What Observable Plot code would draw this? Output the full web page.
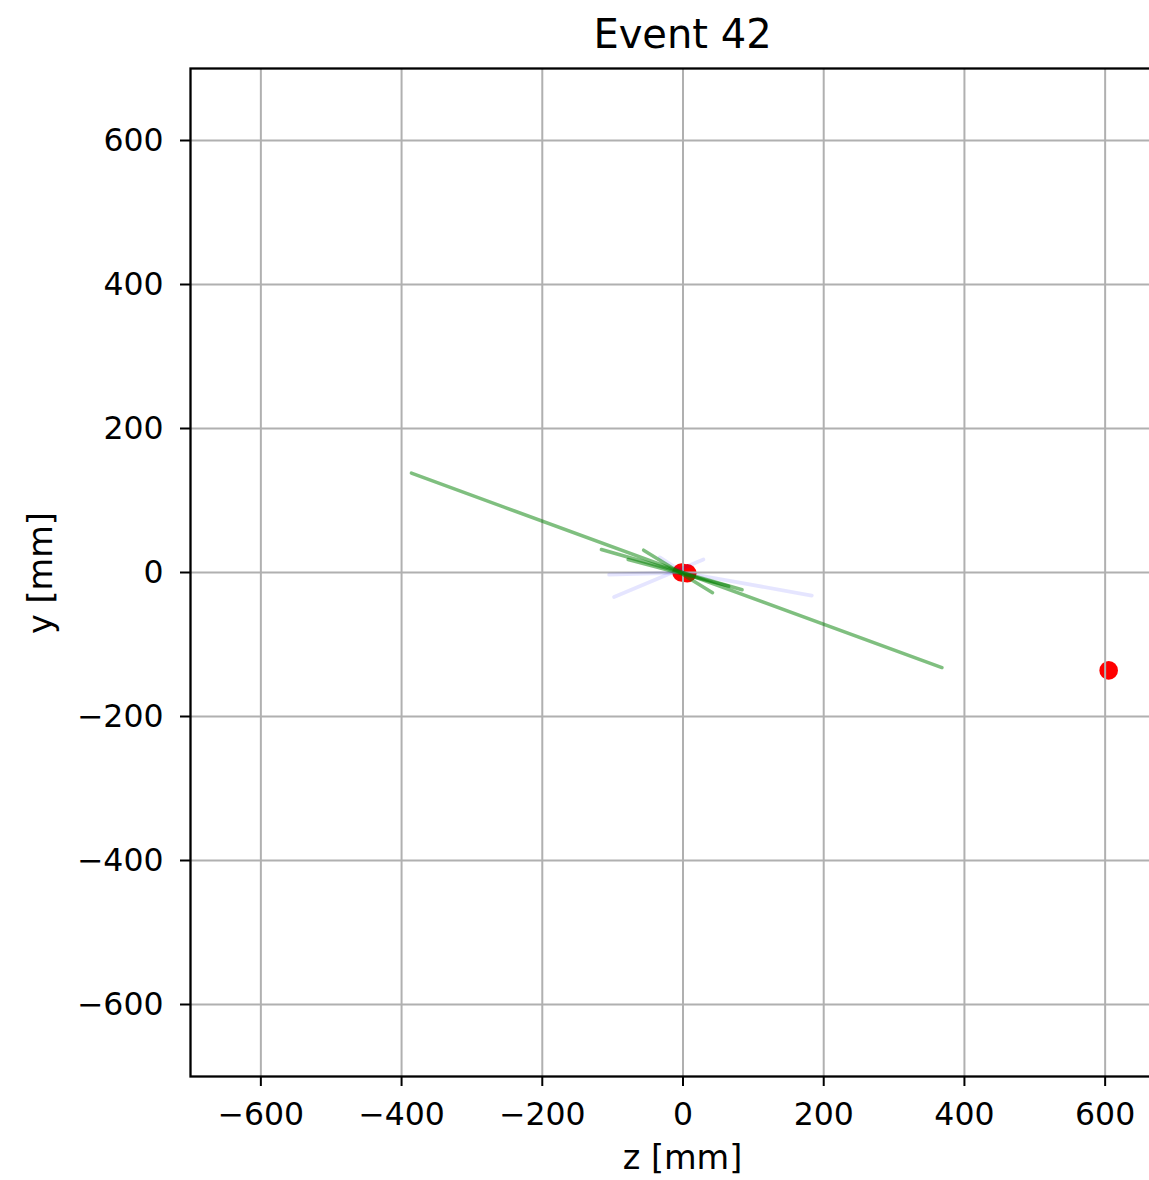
<!DOCTYPE html>
<html>
<head>
<meta charset="utf-8">
<script src="https://cdn.jsdelivr.net/npm/d3@7"></script>
<script src="https://cdn.jsdelivr.net/npm/@observablehq/plot@0.6"></script>
<style>
  html, body { margin: 0; padding: 0; background: #fff; overflow: hidden; }
  #chart { position: absolute; left: 0; top: 0; }
  #chart svg { max-width: none !important; }
</style>
</head>
<body>
<div id="chart"></div>
<script>
// ---- data ----
const titleText = "Event 42";
const xLabel = "z [mm]";
const yLabel = "y [mm]";
const tickValues = [-600, -400, -200, 0, 200, 400, 600];

// reconstructed tracks (green, alpha 0.5)
const trackZ1 = [-386, -116, -56, -78];
const trackY1 = [138, 32, 31, 18];
const trackZ2 = [368, 84, 42, 65];
const trackY2 = [-132, -24, -28, -19];

// faint tracks (blue, alpha 0.1)
const faintZ1 = [-105, 0, -98, -33];
const faintY1 = [-3, 0, -34, 21];
const faintZ2 = [0, 183, 29, 0];
const faintY2 = [0, -32, 18, 0];

// vertices (red)
const vertexZ = [-2, 6, 605];
const vertexY = [0, -1, -136];

// ---- tables ----
const tracks = trackZ1.map((_, i) => ({z1: trackZ1[i], y1: trackY1[i], z2: trackZ2[i], y2: trackY2[i]}));
const faint = faintZ1.map((_, i) => ({z1: faintZ1[i], y1: faintY1[i], z2: faintZ2[i], y2: faintY2[i]}));
const vertices = vertexZ.map((z, i) => ({z, y: vertexY[i]}));

const plot = Plot.plot({
  width: 1200,
  height: 1180,
  marginLeft: 190,
  marginRight: 25,
  marginTop: 68,
  marginBottom: 104,
  style: {fontFamily: "'DejaVu Sans', sans-serif", fontSize: "31.5px", background: "white", overflow: "visible"},
  x: {domain: [-700, 700], label: null},
  y: {domain: [-700, 700], label: null},
  marks: [
    Plot.dot(vertices, {x: "z", y: "y", r: 9.3, fill: "red", stroke: "none"}),
    Plot.gridX(tickValues, {stroke: "#b0b0b0", strokeOpacity: 1, strokeWidth: 2}),
    Plot.gridY(tickValues, {stroke: "#b0b0b0", strokeOpacity: 1, strokeWidth: 2}),
    Plot.link(faint, {x1: "z1", y1: "y1", x2: "z2", y2: "y2", stroke: "blue", strokeOpacity: 0.1, strokeWidth: 3.8, strokeLinecap: "round"}),
    Plot.link(tracks, {x1: "z1", y1: "y1", x2: "z2", y2: "y2", stroke: "green", strokeOpacity: 0.5, strokeWidth: 3.5, strokeLinecap: "round"}),
    Plot.axisX({ticks: tickValues, tickSize: 10, tickPadding: 16, stroke: "black", strokeWidth: 2, label: null, fontSize: 31.5}),
    Plot.axisY({ticks: tickValues, tickSize: 10, tickPadding: 17, stroke: "black", strokeWidth: 2, label: null, fontSize: 31.5}),
    Plot.frame({stroke: "black", strokeWidth: 2.3})
  ]
});
document.getElementById("chart").appendChild(plot);

// titles and axis labels
const svg = d3.select(plot);
svg.append("text")
  .attr("x", 682.5).attr("y", 48)
  .attr("text-anchor", "middle")
  .attr("font-size", 40)
  .attr("fill", "black")
  .text(titleText);
svg.append("text")
  .attr("x", 682.5).attr("y", 1169)
  .attr("text-anchor", "middle")
  .attr("font-size", 33.5)
  .attr("fill", "black")
  .text(xLabel);
svg.append("text")
  .attr("transform", "translate(52,573) rotate(-90)")
  .attr("text-anchor", "middle")
  .attr("font-size", 33.5)
  .attr("fill", "black")
  .text(yLabel);
</script>
</body>
</html>
